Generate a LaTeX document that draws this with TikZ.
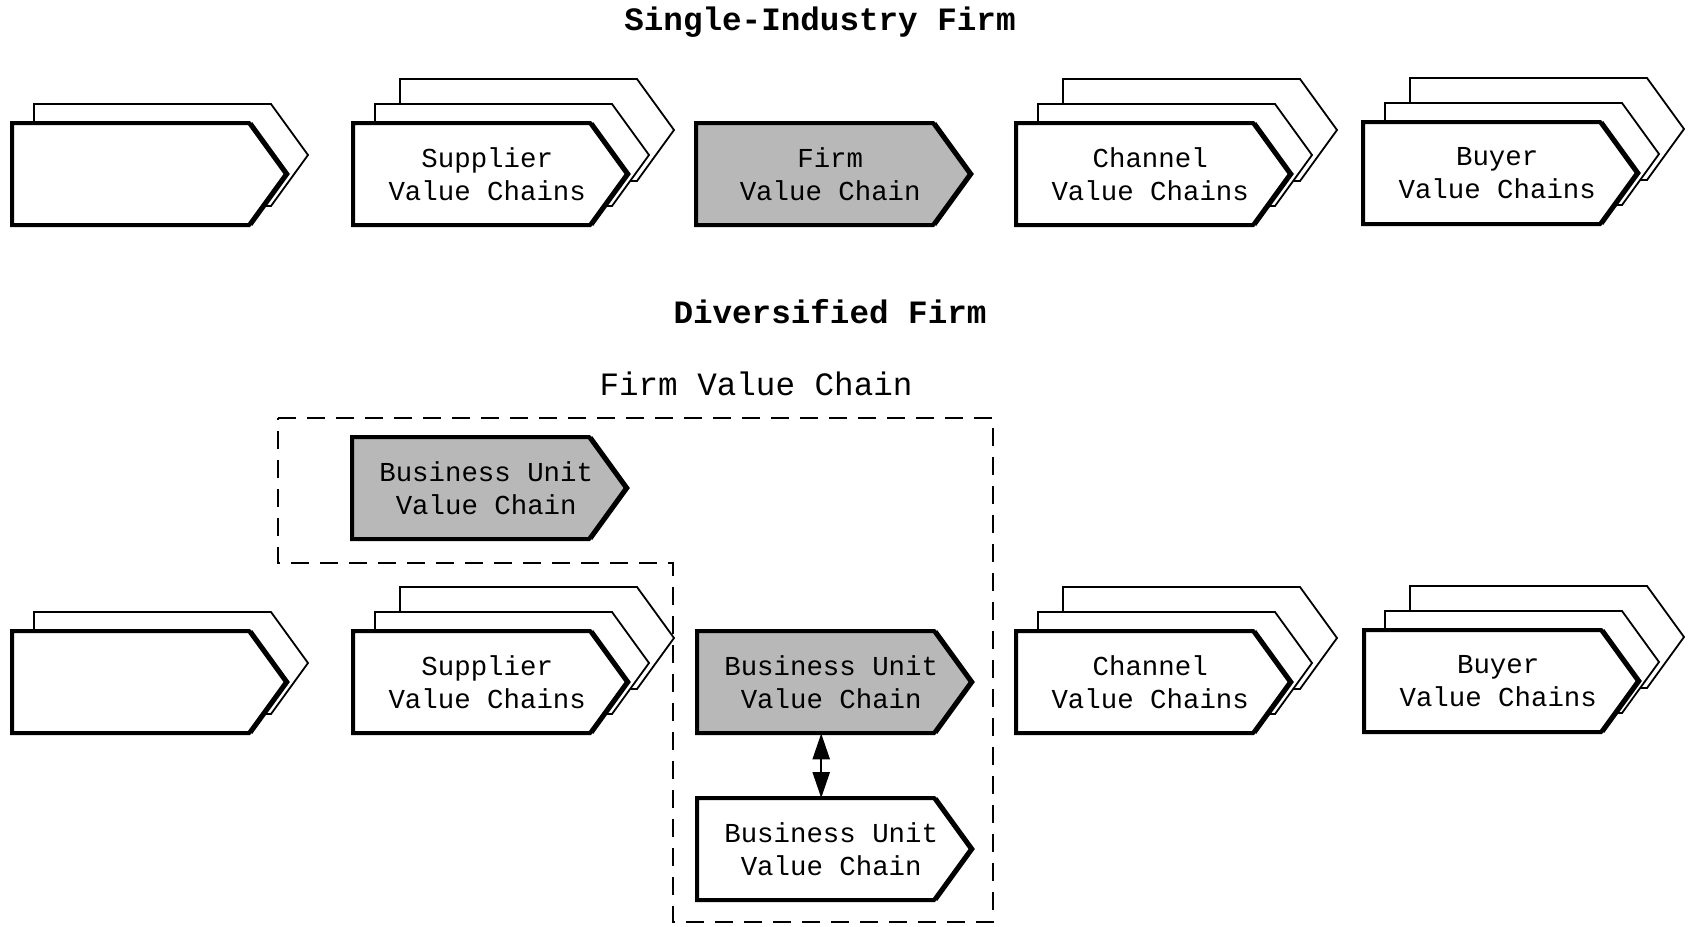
\documentclass[tikz,border=0pt]{standalone}
\usepackage{fontspec}
\newfontfamily\cour{Liberation Mono}
\usetikzlibrary{arrows.meta}
\definecolor{screen}{gray}{0.72}
\newcommand\boxfont{\cour\fontsize{27.4}{33}\selectfont}
\newcommand\headfont{\cour\bfseries\fontsize{32.6}{38}\selectfont}
\newcommand\plainhead{\cour\fontsize{32.6}{38}\selectfont}
% chain outline: style #1, top-left corner (#2,#3)
\newcommand\chainpath[3]{%
  \path[#1] (#2,#3) -- ++(237,0) -- ++(37,51) -- ++(-37,51) -- ++(-237,0) -- cycle;}
% heavier stroke along the pointed end of a front chain
\newcommand\chaintip[2]{%
  \draw[line width=3pt] (#1+239,#2) -- ++(37,51) -- ++(-37,51);}
\tikzset{
  backchain/.style={draw, fill=white, line width=1.8pt, line join=miter},
  frontchain/.style={draw, fill=white, line width=4pt, line join=miter},
  shadedchain/.style={frontchain, fill=screen},
  chaintext/.style={inner sep=0pt, minimum width=268pt, minimum height=102pt,
    anchor=north west, align=center, font=\boxfont},
  headtext/.style={inner sep=0pt, font=\headfont},
  plaintext/.style={inner sep=0pt, font=\plainhead},
  fvcframe/.style={draw, line width=2.5pt, dash pattern=on 18pt off 11pt},
  link/.style={line width=2.5pt,
    {Triangle[length=26pt 0 0,width=17pt 0 0]}-{Triangle[length=26pt 0 0,width=17pt 0 0]}},
}
\begin{document}
\begin{tikzpicture}[x=1pt, y=-1pt]
\useasboundingbox (0,0) rectangle (1688,926);

% ---------- headings ----------
\node[headtext] (single) at (820,22) {Single-Industry Firm};
\node[headtext] (divers) at (830,312) {Diversified Firm};
\node[plaintext] (fvclabel) at (756,384) {Firm Value Chain};

% ---------- single-industry row ----------
\chainpath{backchain}{34}{104}
\chainpath{frontchain}{12}{123}
\chaintip{12}{123}

\chainpath{backchain}{400}{79}
\chainpath{backchain}{375}{104}
\chainpath{frontchain}{353}{123}
\chaintip{353}{123}

\chainpath{shadedchain}{696}{123}
\chaintip{696}{123}

\chainpath{backchain}{1063}{79}
\chainpath{backchain}{1038}{104}
\chainpath{frontchain}{1016}{123}
\chaintip{1016}{123}

\chainpath{backchain}{1410}{78}
\chainpath{backchain}{1385}{103}
\chainpath{frontchain}{1363}{122}
\chaintip{1363}{122}

\node[chaintext] (sup1) at (353,123) {Supplier\\Value Chains};
\node[chaintext] (firm1) at (696,123) {Firm\\Value Chain};
\node[chaintext] (chan1) at (1016,123) {Channel\\Value Chains};
\node[chaintext] (buy1) at (1363,122) {Buyer\\Value Chains};

% ---------- diversified firm ----------
\draw[fvcframe] (278,418) -- (993,418) -- (993,922) -- (673,922)
  -- (673,563) -- (278,563) -- cycle;

\chainpath{shadedchain}{352}{437}
\chaintip{352}{437}

\chainpath{backchain}{34}{612}
\chainpath{frontchain}{12}{631}
\chaintip{12}{631}

\chainpath{backchain}{400}{587}
\chainpath{backchain}{375}{612}
\chainpath{frontchain}{353}{631}
\chaintip{353}{631}

\chainpath{shadedchain}{697}{631}
\chaintip{697}{631}

\chainpath{frontchain}{697}{798}
\chaintip{697}{798}

\chainpath{backchain}{1063}{587}
\chainpath{backchain}{1038}{612}
\chainpath{frontchain}{1016}{631}
\chaintip{1016}{631}

\chainpath{backchain}{1410}{586}
\chainpath{backchain}{1385}{611}
\chainpath{frontchain}{1364}{630}
\chaintip{1364}{630}

\node[chaintext] (butop) at (352,437) {Business Unit\\Value Chain};
\node[chaintext] (sup2) at (353,631) {Supplier\\Value Chains};
\node[chaintext] (bumid) at (697,631) {Business Unit\\Value Chain};
\node[chaintext] (bubot) at (697,798) {Business Unit\\Value Chain};
\node[chaintext] (chan2) at (1016,631) {Channel\\Value Chains};
\node[chaintext] (buy2) at (1364,630) {Buyer\\Value Chains};

\draw[link] ([xshift=-10pt]bumid.south) -- ([xshift=-10pt]bubot.north);
\end{tikzpicture}
\end{document}
